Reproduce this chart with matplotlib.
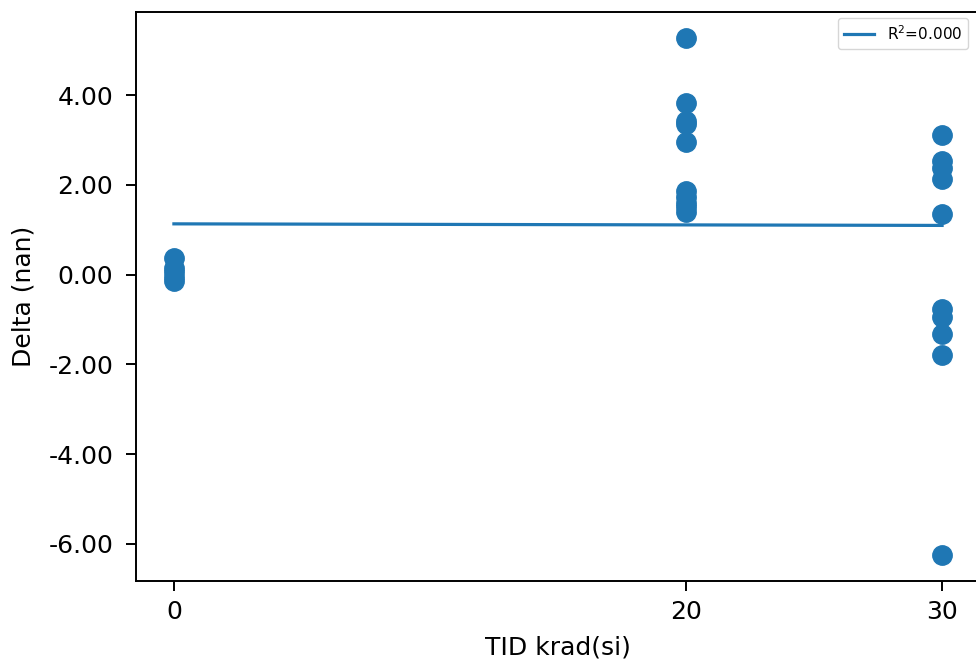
import numpy as np
import matplotlib
matplotlib.use("Agg")
import matplotlib.pyplot as plt
from matplotlib.ticker import FormatStrFormatter

# data
tid_0 = [0, 0, 0, 0, 0]
delta_0 = [0.36, 0.15, 0.05, -0.05, -0.15]
tid_20 = [20] * 10
delta_20 = [5.27, 3.83, 3.42, 3.36, 2.95, 1.86, 1.72, 1.60, 1.50, 1.40]
tid_30 = [30] * 10
delta_30 = [3.10, 2.52, 2.37, 2.12, 1.34, -0.76, -0.94, -1.33, -1.80, -6.25]
xticks = [0, 20, 30]
xlabel = "TID krad(si)"
ylabel = "Delta (nan)"

x = np.array(tid_0 + tid_20 + tid_30, dtype=float)
y = np.array(delta_0 + delta_20 + delta_30, dtype=float)

slope, intercept = np.polyfit(x, y, 1)
pred = slope * x + intercept
r2 = 1 - np.sum((y - pred) ** 2) / np.sum((y - y.mean()) ** 2)

W, H = 976, 659
fig = plt.figure(figsize=(W / 100, H / 100), dpi=100)
ax = fig.add_axes([135.5 / W, 1 - 581 / H, (980.5 - 135.5) / W, (581 - 12) / H])

ax.scatter(x, y, s=195, color="#1f77b4", zorder=3)
xs = np.array([x.min(), x.max()])
ax.plot(xs, slope * xs + intercept, color="#1f77b4", lw=2.3,
        label=f"R$^2$={r2:.3f}")

ax.set_xlim(-1.5, 31.5)
ax.set_ylim(-6.83, 5.85)
ax.set_xticks(xticks)
ax.yaxis.set_major_formatter(FormatStrFormatter("%.2f"))
ax.tick_params(axis="both", labelsize=18, length=7, width=1.4)
ax.tick_params(axis="y", pad=9)
ax.tick_params(axis="x", pad=7)
for sp in ax.spines.values():
    sp.set_linewidth(1.4)

ax.set_xlabel(xlabel, fontsize=18, labelpad=8)
ax.set_ylabel(ylabel, fontsize=18, labelpad=9)

ax.legend(loc="upper right", bbox_to_anchor=(968 / W, 1 - 18 / H),
          bbox_transform=fig.transFigure, borderaxespad=0,
          fontsize=11, handlelength=2.0)

fig.savefig("out.png", dpi=100)
